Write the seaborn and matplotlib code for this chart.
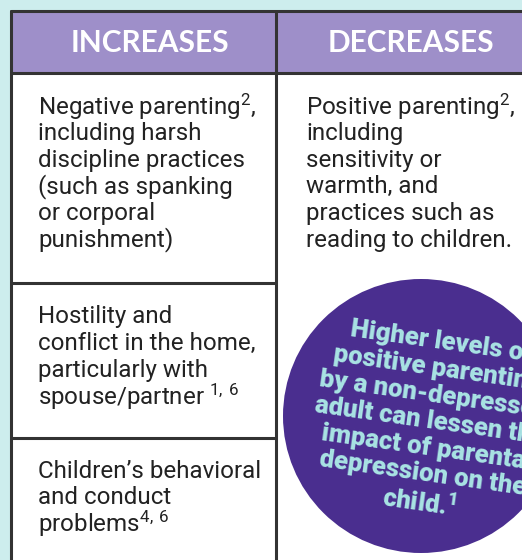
import matplotlib
matplotlib.use("Agg")
import matplotlib.pyplot as plt
import matplotlib.patches as mpatches
import seaborn as sns

# Table content
headers = ["INCREASES", "DECREASES"]
increases = [
    ["Negative parenting$^{2}$,", "including harsh", "discipline practices",
     "(such as spanking", "or corporal", "punishment)"],
    ["Hostility and", "conflict in the home,", "particularly with",
     "spouse/partner $^{1,\\,6}$"],
    ["Children\u2019s behavioral", "and conduct", "problems$^{4,\\,6}$"],
]
decreases = ["Positive parenting$^{2}$,", "including", "sensitivity or",
             "warmth, and", "practices such as", "reading to children."]
callout = ["Higher levels of", "positive parenting", "by a non-depressed",
           "adult can lessen the", "impact of parental", "depression on the",
           "child.$^{1}$"]

sns.set_theme(style="white")
plt.rcParams["font.family"] = ["Roboto", "DejaVu Sans"]
plt.rcParams["mathtext.default"] = "regular"

BG = "#cdeded"
HEAD = "#9e8fc9"
LINE = "#333333"
TXT = "#222222"
CIRC = "#4a2e8f"
CTXT = "#a9e4e4"

fig = plt.figure(figsize=(5.22, 5.60), dpi=100)
fig.patch.set_facecolor(BG)
ax = fig.add_axes([0, 0, 1, 1])
ax.set_xlim(0, 522)
ax.set_ylim(560, 0)
ax.axis("off")

left, mid, right = 11, 276, 530
top, head_bot = 11, 73
row_lines = [283, 438]

# cells
ax.add_patch(mpatches.Rectangle((left, top), right - left, 570 - top,
                                facecolor="white", edgecolor="none"))
ax.add_patch(mpatches.Rectangle((left, top), right - left, head_bot - top,
                                facecolor=HEAD, edgecolor="none"))
# grid lines
lw = 2.2
ax.plot([left, right], [top, top], color=LINE, lw=lw)
ax.plot([left, right], [head_bot, head_bot], color=LINE, lw=lw)
ax.plot([left, left], [top, 570], color=LINE, lw=lw)
ax.plot([mid, mid], [top, 570], color=LINE, lw=lw)
for y in row_lines:
    ax.plot([left, mid], [y, y], color=LINE, lw=lw)

# headers
for x, h in zip([150, 411], headers):
    ax.text(x, 43, h, ha="center", va="center", color="white",
            fontsize=21.5, fontweight="bold", family=["Lato", "DejaVu Sans"])

# body text
step = 26.6
starts = [107, 317, 471]
for lines, y0 in zip(increases, starts):
    for i, s in enumerate(lines):
        ax.text(38, y0 + i * step, s, ha="left", va="center",
                color=TXT, fontsize=17.4)
for i, s in enumerate(decreases):
    ax.text(306, 107 + i * step, s, ha="left", va="center",
            color=TXT, fontsize=17.4)

# callout circle
ax.add_patch(mpatches.Ellipse((421, 416), 276, 274, facecolor=CIRC,
                              edgecolor="none"))
ax.text(430, 423, "\n".join(callout), ha="center", va="center",
        rotation=-8, rotation_mode="anchor", multialignment="center",
        color=CTXT, fontsize=18.5, fontweight="heavy", linespacing=1.14,
        clip_on=True)

fig.savefig("out.png", dpi=100, facecolor=BG)
